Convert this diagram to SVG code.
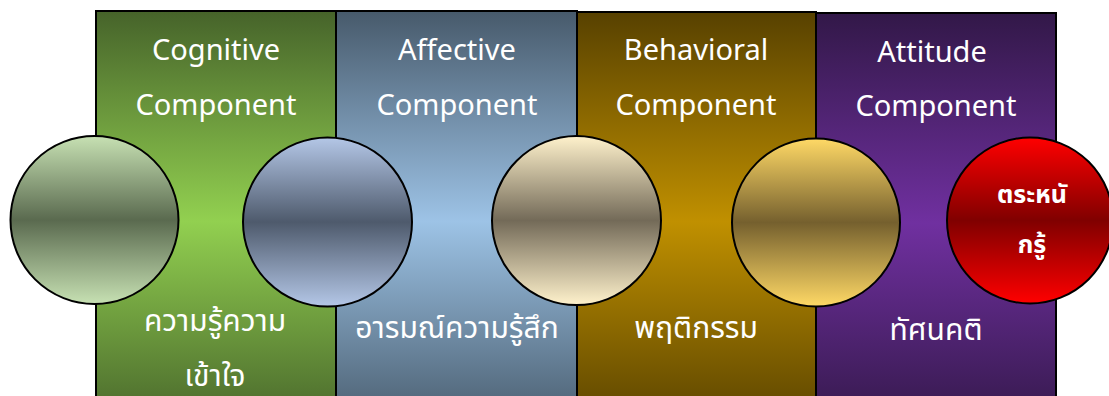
<svg xmlns="http://www.w3.org/2000/svg" width="1109" height="396" viewBox="0 0 1109 396">
<defs>
<style>
.box{stroke:#000;stroke-width:2}
.ball{stroke:#000;stroke-width:2}
.t{font-family:"Noto Sans","Open Sans",sans-serif;fill:#fff;text-anchor:middle;font-size:29px}
.th{font-family:"Noto Sans","Noto Sans Thai",sans-serif;fill:#fff;text-anchor:middle;font-size:30px}
.thb{font-family:"Noto Sans","Noto Sans Thai",sans-serif;fill:#fff;text-anchor:middle;font-size:25px;font-weight:bold}
</style>
<linearGradient id="gGreen" x1="0" y1="0" x2="0" y2="1">
<stop offset="0" stop-color="#46632a"/><stop offset="0.5" stop-color="#92d050"/><stop offset="1" stop-color="#46632a"/>
</linearGradient>
<linearGradient id="gBlue" x1="0" y1="0" x2="0" y2="1">
<stop offset="0" stop-color="#475a6b"/><stop offset="0.5" stop-color="#9dc3e6"/><stop offset="1" stop-color="#475a6b"/>
</linearGradient>
<linearGradient id="gGold" x1="0" y1="0" x2="0" y2="1">
<stop offset="0" stop-color="#574100"/><stop offset="0.5" stop-color="#c09000"/><stop offset="1" stop-color="#574100"/>
</linearGradient>
<linearGradient id="gPurple" x1="0" y1="0" x2="0" y2="1">
<stop offset="0" stop-color="#321848"/><stop offset="0.5" stop-color="#7030a0"/><stop offset="1" stop-color="#321848"/>
</linearGradient>
<linearGradient id="cGreen" x1="0" y1="0" x2="0" y2="1">
<stop offset="0" stop-color="#c7e1b3"/><stop offset="0.5" stop-color="#5a6a4f"/><stop offset="1" stop-color="#c7e1b3"/>
</linearGradient>
<linearGradient id="cBlue" x1="0" y1="0" x2="0" y2="1">
<stop offset="0" stop-color="#b4c7e7"/><stop offset="0.5" stop-color="#4e5a6c"/><stop offset="1" stop-color="#b4c7e7"/>
</linearGradient>
<linearGradient id="cBeige" x1="0" y1="0" x2="0" y2="1">
<stop offset="0" stop-color="#fff2cc"/><stop offset="0.5" stop-color="#736a58"/><stop offset="1" stop-color="#fff2cc"/>
</linearGradient>
<linearGradient id="cGold" x1="0" y1="0" x2="0" y2="1">
<stop offset="0" stop-color="#ffd966"/><stop offset="0.5" stop-color="#75602e"/><stop offset="1" stop-color="#ffd966"/>
</linearGradient>
<linearGradient id="cRed" x1="0" y1="0" x2="0" y2="1">
<stop offset="0" stop-color="#ff0000"/><stop offset="0.5" stop-color="#800000"/><stop offset="1" stop-color="#ff0000"/>
</linearGradient>
</defs>
<rect width="1109" height="396" fill="#fff"/>
<g id="cognitive">
<rect class="box" x="96" y="11" width="240" height="420" fill="url(#gGreen)"/>
<text class="t" x="216" y="60">Cognitive</text>
<text class="t" x="216" y="115">Component</text>
<text class="th" x="215" y="331">ความรู้ความ</text>
<text class="th" x="215" y="386">เข้าใจ</text>
</g>
<g id="affective">
<rect class="box" x="336" y="11" width="241" height="420" fill="url(#gBlue)"/>
<text class="t" x="457" y="60">Affective</text>
<text class="t" x="457" y="115">Component</text>
<text class="th" x="457" y="338">อารมณ์ความรู้สึก</text>
</g>
<g id="behavioral">
<rect class="box" x="577" y="12" width="239" height="420" fill="url(#gGold)"/>
<text class="t" x="696" y="60">Behavioral</text>
<text class="t" x="696" y="115">Component</text>
<text class="th" x="696" y="338">พฤติกรรม</text>
</g>
<g id="attitude">
<rect class="box" x="816" y="13" width="240" height="420" fill="url(#gPurple)"/>
<text class="t" x="932" y="62">Attitude</text>
<text class="t" x="936" y="116">Component</text>
<text class="th" x="936" y="340">ทัศนคติ</text>
</g>
<g id="ball-green"><circle class="ball" cx="94.5" cy="220" r="84" fill="url(#cGreen)"/></g>
<g id="ball-blue"><circle class="ball" cx="327.5" cy="222" r="84.5" fill="url(#cBlue)"/></g>
<g id="ball-beige"><circle class="ball" cx="576.5" cy="220.5" r="84.5" fill="url(#cBeige)"/></g>
<g id="ball-gold"><circle class="ball" cx="816" cy="222.5" r="84" fill="url(#cGold)"/></g>
<g id="awareness">
<circle class="ball" cx="1030" cy="220.5" r="83" fill="url(#cRed)"/>
<text class="thb" x="1032" y="203">ตระหนั</text>
<text class="thb" x="1032" y="253">กรู้</text>
</g>
</svg>
